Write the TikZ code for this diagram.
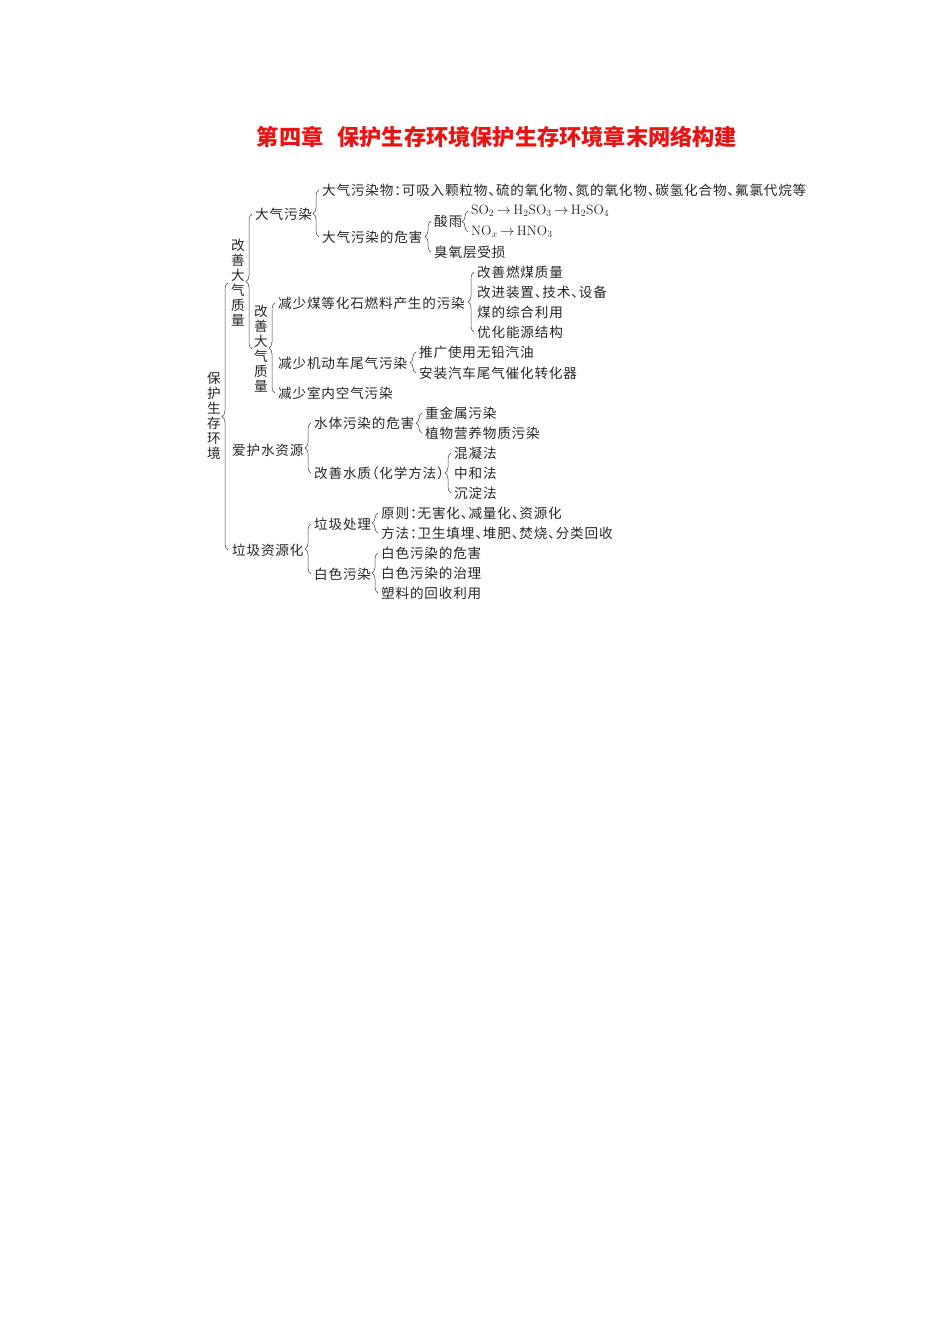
\documentclass[tikz,border=0pt]{standalone}
\usepackage{fontspec}
\newfontfamily\cjk[LetterSpace=6,RawFeature=+halt]{Noto Sans CJK SC}
\newfontfamily\cjktitle{Noto Sans CJK SC}
\usetikzlibrary{decorations.pathreplacing}
\definecolor{titlered}{RGB}{232,20,20}
\tikzset{txt/.style={anchor=west,inner sep=1pt,text=black!85,font=\cjk\fontsize{13.6}{15}\selectfont},
  vtxt/.style={txt,anchor=center,align=center},
  brc/.style={draw=black!75,line width=0.5pt,decorate,decoration={brace,amplitude=6pt}}}

\begin{document}
\begin{tikzpicture}[x=1pt,y=-1pt]
\useasboundingbox (0,0) rectangle (950,1344);
\node[text=titlered,font=\cjktitle\bfseries\fontsize{22.2}{26}\selectfont] (title) at (497,137) {第四章\hspace{14pt}保护生存环境保护生存环境章末网络构建};

\node[vtxt] (root) at (214,416) {保\\护\\生\\存\\环\\境};
\node[vtxt] (gs1) at (238,283) {改\\善\\大\\气\\质\\量};
\node[txt] (dqwr) at (254,214) {大气污染};
\node[txt] (dqwrw) at (321,190) {大气污染物：可吸入颗粒物、硫的氧化物、氮的氧化物、碳氢化合物、氟氯代烷等};
\node[txt] (dqwh) at (321,237) {大气污染的危害};
\node[txt] (sy) at (433,221) {酸雨};
\node[txt] (so2) at (470,211) {$\mathrm{SO_2\,{\rightarrow}\,H_2SO_3\,{\rightarrow}\,H_2SO_4}$};
\node[txt] (nox) at (470,232) {$\mathrm{NO}_x\,{\rightarrow}\,\mathrm{HNO_3}$};
\node[txt] (cy) at (433,252) {臭氧层受损};

\node[vtxt] (gs2) at (261,349) {改\\善\\大\\气\\质\\量};
\node[txt] (jsm) at (277,303) {减少煤等化石燃料产生的污染};
\node[txt] (m1) at (476,272) {改善燃煤质量};
\node[txt] (m2) at (476,292) {改进装置、技术、设备};
\node[txt] (m3) at (476,312) {煤的综合利用};
\node[txt] (m4) at (476,332) {优化能源结构};
\node[txt] (jsj) at (277,363) {减少机动车尾气污染};
\node[txt] (j1) at (418,352) {推广使用无铅汽油};
\node[txt] (j2) at (418,373) {安装汽车尾气催化转化器};
\node[txt] (jss) at (277,393) {减少室内空气污染};

\node[txt] (ahs) at (231,450) {爱护水资源};
\node[txt] (stw) at (313,423) {水体污染的危害};
\node[txt] (w1) at (424,413) {重金属污染};
\node[txt] (w2) at (424,433) {植物营养物质污染};
\node[txt] (gsz) at (313,473) {改善水质（化学方法）};
\node[txt] (z1) at (453,453) {混凝法};
\node[txt] (z2) at (453,473) {中和法};
\node[txt] (z3) at (453,493) {沉淀法};

\node[txt] (ljz) at (231,550) {垃圾资源化};
\node[txt] (ljc) at (313,524) {垃圾处理};
\node[txt] (l1) at (380,513) {原则：无害化、减量化、资源化};
\node[txt] (l2) at (380,533) {方法：卫生填埋、堆肥、焚烧、分类回收};
\node[txt] (bswr) at (313,574) {白色污染};
\node[txt] (b1) at (380,553) {白色污染的危害};
\node[txt] (b2) at (380,573) {白色污染的治理};
\node[txt] (b3) at (380,593) {塑料的回收利用};

\draw[brc] ([xshift=-2pt]gs1.west |- ljz.west) -- ([xshift=-2pt]gs1.west);
\draw[brc] ([xshift=-2pt]dqwr.west |- gs2.west) -- ([xshift=-2pt]dqwr.west);
\draw[brc] ([xshift=-2pt]dqwh.west) -- ([xshift=-2pt]dqwrw.west);
\draw[brc] ([xshift=-2pt]cy.west) -- ([xshift=-2pt]sy.west);
\draw[brc] ([xshift=-2pt]nox.west) -- ([xshift=-2pt]so2.west);
\draw[brc] ([xshift=-2pt]jss.west) -- ([xshift=-2pt]jsm.west);
\draw[brc] ([xshift=-2pt]m4.west) -- ([xshift=-2pt]m1.west);
\draw[brc] ([xshift=-2pt]j2.west) -- ([xshift=-2pt]j1.west);
\draw[brc] ([xshift=-2pt]gsz.west) -- ([xshift=-2pt]stw.west);
\draw[brc] ([xshift=-2pt]w2.west) -- ([xshift=-2pt]w1.west);
\draw[brc] ([xshift=-2pt]z3.west) -- ([xshift=-2pt]z1.west);
\draw[brc] ([xshift=-2pt]bswr.west) -- ([xshift=-2pt]ljc.west);
\draw[brc] ([xshift=-2pt]l2.west) -- ([xshift=-2pt]l1.west);
\draw[brc] ([xshift=-2pt]b3.west) -- ([xshift=-2pt]b1.west);

\end{tikzpicture}
\end{document}
